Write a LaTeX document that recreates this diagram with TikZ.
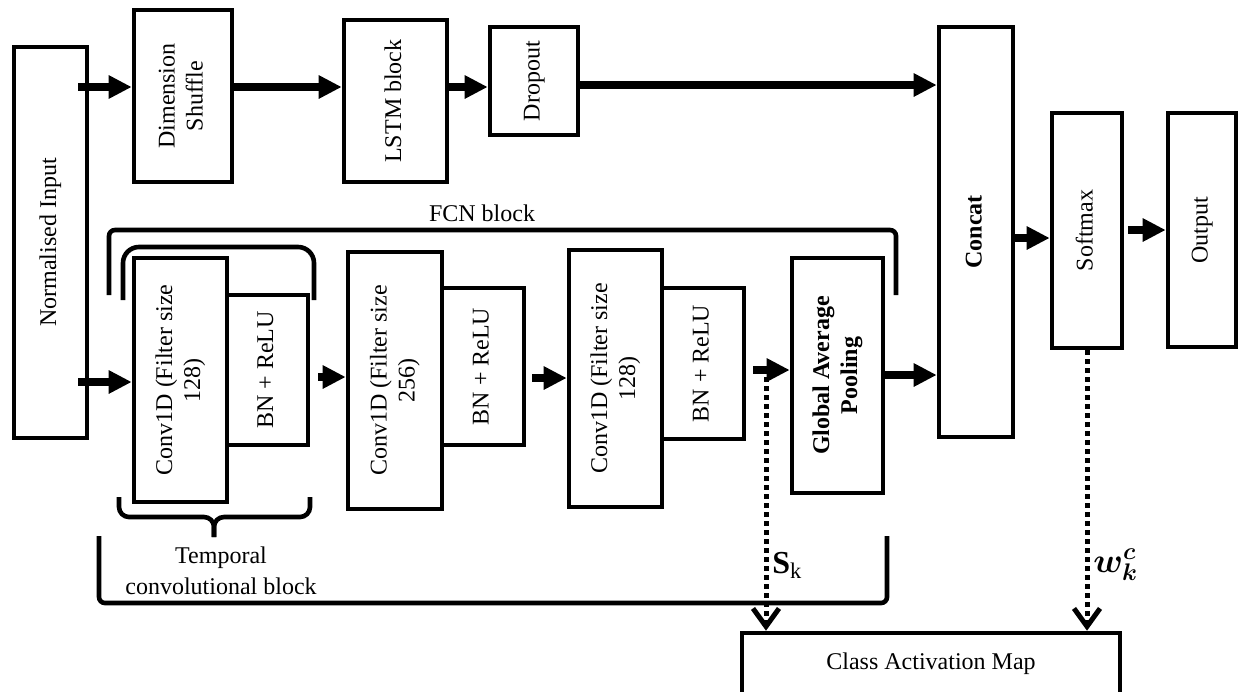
\documentclass[tikz,border=0pt]{standalone}
\usepackage{fontspec}
\setmainfont{Liberation Serif}
\usepackage{graphicx}
\usepackage{bm}
\usetikzlibrary{arrows.meta}
\newcommand{\vt}[1]{\rotatebox{90}{\begin{tabular}{@{}c@{}}#1\end{tabular}}}
\begin{document}
\begin{tikzpicture}[x=0.5pt, y=-0.5pt,
    blk/.style={draw, line width=2.3pt, inner sep=0pt, font=\fontsize{12}{14}\selectfont},
    arr/.style={line width=4pt, -{Triangle[length=11.5pt,width=11pt]}},
    dotarr/.style={line width=2.5pt, dash pattern=on 2.5pt off 2pt, -{Straight Barb[length=9pt,width=13pt]}},
    brk/.style={line width=2.3pt}]
    \path[use as bounding box] (0,0) rectangle (1241,691);
    \clip (0,0) rectangle (1241,691);
    % boxes: name / x / y / width(pt) / height(pt) / text
    \foreach \n/\x/\y/\w/\h/\t in {
        norm/50.5/242.5/36.5/195.5/{Normalised Input},
        dshuf/183/96/49/86/{Dimension\\Shuffle},
        lstm/395.5/101/51.5/81/{LSTM block},
        drop/534/81/44/54/{Dropout},
        concat/976/232/37/205/{\bfseries Concat},
        soft/1087/230.5/35/117.5/{Softmax},
        outp/1202/230/34/117/{Output},
        conv1/180.5/380/46.5/122/{Conv1D (Filter size\\128)},
        bn1/267.5/370/40.5/75/{BN + ReLU},
        conv2/395/380.5/47/128.5/{Conv1D (Filter size\\256)},
        bn2/483/366.5/41/78.5/{BN + ReLU},
        conv3/615.5/378.5/46.5/128.5/{Conv1D (Filter size\\128)},
        bn3/703/363.5/41/75.5/{BN + ReLU},
        gap/837.5/375.5/45.5/117.5/{\bfseries Global Average\\\bfseries Pooling}}
    {\node[blk, minimum width=\w pt, minimum height=\h pt] (\n) at (\x,\y) {\vt{\t}};}
    \node[blk, minimum width=189pt, minimum height=31pt] (cam) at (931,664) {Class Activation Map};

    % LSTM branch
    \draw[arr, shorten <=-5.5pt] (norm.east |- 0,87) -- (dshuf.west |- 0,87);
    \draw[arr] (dshuf.east |- 0,87) -- (lstm.west |- 0,87);
    \draw[arr] (lstm.east |- 0,87) -- (drop.west |- 0,87);
    \draw[arr] (drop.east |- 0,85) -- (concat.west |- 0,85);
    % FCN branch
    \draw[arr, shorten <=-5.5pt] (norm.east |- 0,382) -- (conv1.west |- 0,382);
    \draw[arr, shorten <=4pt] (bn1.east |- 0,377) -- (conv2.west |- 0,377);
    \draw[arr, shorten <=3pt] (bn2.east |- 0,378) -- (conv3.west |- 0,378);
    \draw[arr, shorten <=3.5pt] (bn3.east |- 0,370) -- (gap.west |- 0,370);
    \draw[arr] (gap.east |- 0,375) -- (concat.west |- 0,375);
    \draw[arr] (concat.east |- 0,238) -- (soft.west |- 0,238);
    \draw[arr, shorten <=2pt] (soft.east |- 0,230) -- (outp.west |- 0,230);

    % brackets
    \draw[brk, rounded corners=3pt] (109,295) -- (109,230) -- (896,230) -- (896,295);
    \draw[brk, rounded corners=8pt] (123,300) -- (123,247) -- (314,247) -- (314,300);
    \draw[brk, rounded corners=5pt] (119,497) -- (119,517) -- (214,517) -- (214,537);
    \draw[brk, rounded corners=5pt] (310,497) -- (310,517) -- (214,517) -- (214,537);
    \draw[brk, rounded corners=3pt] (99,536) -- (99,603) -- (887,603) -- (887,536);
    \node[font=\fontsize{12}{14}\selectfont] (fcnlbl) at (482,213) {FCN block};
    \node[align=center, font=\fontsize{12}{15.5}\selectfont] (tcblbl) at (221,571) {Temporal\\convolutional block};

    % class activation map
    \coordinate (skt) at (766,377);
    \draw[dotarr] (skt) -- (skt |- cam.north);
    \draw[dotarr] (soft.south) -- (soft.south |- cam.north);
    \node[anchor=west, inner sep=0pt, font=\fontsize{16}{18}\selectfont] (sk) at (772,565) {\textbf{S}\textsubscript{k}};
    \node[anchor=west, inner sep=0pt, font=\fontsize{17}{19}\selectfont] (wkc) at (1093,565) {$\bm{w_k^c}$};
\end{tikzpicture}
\end{document}
